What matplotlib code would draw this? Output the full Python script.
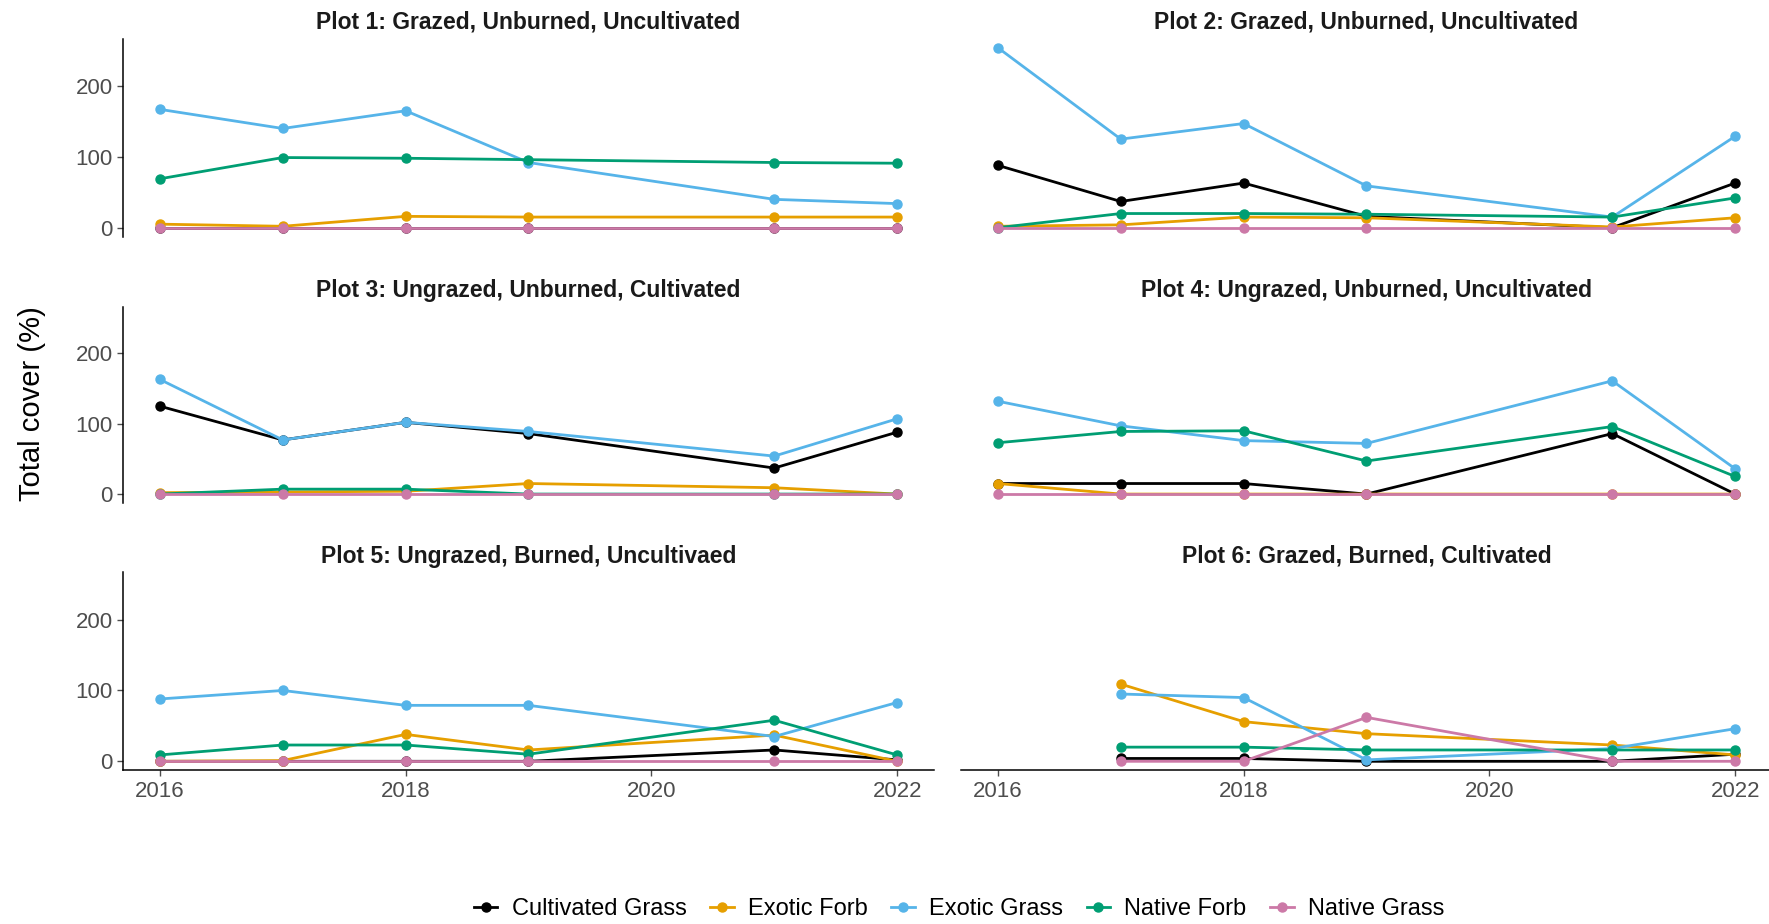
import numpy as np
import matplotlib.pyplot as plt
from matplotlib.lines import Line2D

plt.rcParams["font.family"] = ["Liberation Sans", "DejaVu Sans"]

# ==========================================================================
#  Data
# ==========================================================================

YEARS = [2016, 2017, 2018, 2019, 2021, 2022]
GROUPS = ["Cultivated Grass", "Exotic Forb", "Exotic Grass", "Native Forb", "Native Grass"]
COLORS = ["#000000", "#E69F00", "#56B4E9", "#009E73", "#CC79A7"]
TITLES = [
    "Plot 1: Grazed, Unburned, Uncultivated",
    "Plot 2: Grazed, Unburned, Uncultivated",
    "Plot 3: Ungrazed, Unburned, Cultivated",
    "Plot 4: Ungrazed, Unburned, Uncultivated",
    "Plot 5: Ungrazed, Burned, Uncultivaed",
    "Plot 6: Grazed, Burned, Cultivated",
]

nan = np.nan
PLOT1 = {
    "Cultivated Grass": [0, 0, 0, 0, 0, 0],
    "Exotic Forb": [5, 2, 16, 15, 15, 15],
    "Exotic Grass": [167, 140, 165, 92, 40, 34],
    "Native Forb": [69, 99, 98, 96, 92, 91],
    "Native Grass": [0, 0, 0, 0, 0, 0],
}
PLOT2 = {
    "Cultivated Grass": [88, 37, 63, 16, 0, 63],
    "Exotic Forb": [2, 4, 15, 14, 1, 14],
    "Exotic Grass": [254, 125, 147, 59, 15, 129],
    "Native Forb": [0, 20, 20, 19, 15, 42],
    "Native Grass": [0, 0, 0, 0, 0, 0],
}
PLOT3 = {
    "Cultivated Grass": [125, 77, 102, 86, 37, 88],
    "Exotic Forb": [2, 3, 4, 15, 9, 0],
    "Exotic Grass": [163, 77, 102, 89, 54, 107],
    "Native Forb": [0, 7, 7, 0, 0, 0],
    "Native Grass": [0, 0, 0, 0, 0, 0],
}
PLOT4 = {
    "Cultivated Grass": [15, 15, 15, 0, 86, 0],
    "Exotic Forb": [15, 0, 0, 0, 0, 0],
    "Exotic Grass": [132, 97, 76, 72, 161, 36],
    "Native Forb": [73, 89, 90, 47, 96, 25],
    "Native Grass": [0, 0, 0, 0, 0, 0],
}
PLOT5 = {
    "Cultivated Grass": [0, 0, 0, 0, 16, 2],
    "Exotic Forb": [0, 1, 38, 16, 37, 0],
    "Exotic Grass": [88, 100, 79, 79, 35, 83],
    "Native Forb": [9, 23, 23, 10, 58, 9],
    "Native Grass": [0, 0, 0, 0, 0, 0],
}
PLOT6 = {
    "Cultivated Grass": [nan, 4, 4, 0, 0, 10],
    "Exotic Forb": [nan, 109, 56, 39, 23, 9],
    "Exotic Grass": [nan, 95, 90, 2, 18, 46],
    "Native Forb": [nan, 20, 20, 16, 16, 16],
    "Native Grass": [nan, 0, 0, 62, 0, 0],
}
PLOTS = [PLOT1, PLOT2, PLOT3, PLOT4, PLOT5, PLOT6]

# ==========================================================================
#  Layout (pixel boxes for the facets)
# ==========================================================================

W, H = 1769, 924
COLS = [(123, 934), (961, 1772)]
ROWS = [(38.7, 236.7), (306.5, 503), (572.4, 770.3)]
GREY = "#4D4D4D"

fig = plt.figure(figsize=(W / 100, H / 100), dpi=100)

for i, (data, title) in enumerate(zip(PLOTS, TITLES)):
    r, c = divmod(i, 2)
    x0, x1 = COLS[c]
    y0, y1 = ROWS[r]
    ax = fig.add_axes([x0 / W, 1 - y1 / H, (x1 - x0) / W, (y1 - y0) / H])
    for g, col in zip(GROUPS, COLORS):
        ax.plot(YEARS, data[g], color=col, lw=2.0, marker="o", ms=6.5, zorder=3)
    ax.set_xlim(2015.7, 2022.3)
    ax.set_ylim(-12.7, 266.7)
    ax.set_xticks([2016, 2018, 2020, 2022])
    ax.set_yticks([0, 100, 200])
    ax.set_title(title, fontsize=16.5, fontweight="bold", pad=7, color="#1a1a1a")
    for s in ["top", "right"]:
        ax.spines[s].set_visible(False)
    ax.spines["left"].set_linewidth(1.1)
    ax.spines["bottom"].set_linewidth(1.1)
    ax.tick_params(colors=GREY, labelcolor=GREY, labelsize=16, length=4, width=1)
    if c == 1:
        ax.spines["left"].set_visible(False)
        ax.tick_params(axis="y", left=False, labelleft=False)
    if r < 2:
        ax.spines["bottom"].set_visible(False)
        ax.tick_params(axis="x", bottom=False, labelbottom=False)

fig.text(32 / W, 1 - 404 / H, "Total cover (%)", rotation=90, fontsize=21,
         ha="center", va="center")

handles = [Line2D([], [], color=col, lw=2.0, marker="o", ms=6.5) for col in COLORS]
fig.legend(handles, GROUPS, loc="center", bbox_to_anchor=(959 / W, 1 - 909 / H),
           ncol=5, frameon=False, fontsize=17, handlelength=1.0, handletextpad=0.6,
           columnspacing=1.0)

fig.savefig("out.png", dpi=100)
